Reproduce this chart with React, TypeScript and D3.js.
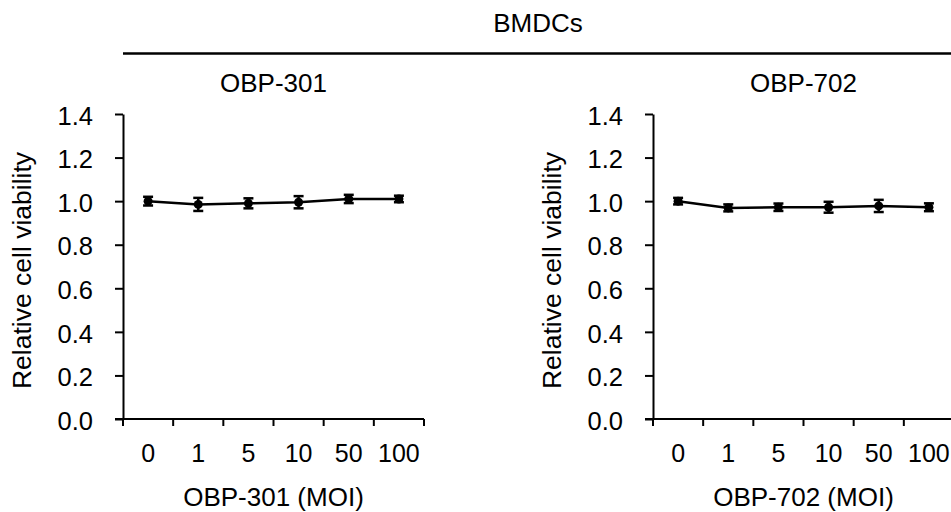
import React, { useEffect, useRef } from 'react';
import { select, scaleBand, scaleLinear, axisLeft, line, format } from 'd3';

const moi = ['0', '1', '5', '10', '50', '100'];
const obp301Mean = [1.0, 0.985, 0.99, 0.995, 1.01, 1.01];
const obp301Err = [0.02, 0.03, 0.023, 0.028, 0.019, 0.015];
const obp702Mean = [1.0, 0.969, 0.972, 0.972, 0.978, 0.972];
const obp702Err = [0.015, 0.016, 0.017, 0.025, 0.028, 0.018];
const yTicks = [0, 0.2, 0.4, 0.6, 0.8, 1.0, 1.2, 1.4];

const FONT = 'Liberation Sans, Arial, sans-serif';

function Panel({ left, title, xTitle, mean, err }) {
  const gRef = useRef(null);

  useEffect(() => {
    const width = 301;
    const top = 114;
    const bottom = 419;
    const g = select(gRef.current);
    g.selectAll('*').remove();

    const x = scaleBand().domain(moi).range([left, left + width]).padding(0);
    const y = scaleLinear().domain([0, 1.4]).range([bottom, top]);

    // y axis
    const yAxis = axisLeft(y).tickValues(yTicks).tickSize(8).tickSizeOuter(0).tickPadding(22).tickFormat(format('.1f'));
    const ya = g.append('g').attr('transform', `translate(${left},0)`).call(yAxis);
    ya.select('.domain').attr('stroke', '#000').attr('stroke-width', 2);
    ya.selectAll('.tick line').attr('stroke', '#000').attr('stroke-width', 2);
    ya.selectAll('.tick text').attr('font-size', 25.5).attr('font-family', FONT).attr('fill', '#000').attr('dy', '0.4em');

    // x axis
    g.append('line')
      .attr('x1', left - 8).attr('x2', left + width)
      .attr('y1', bottom).attr('y2', bottom)
      .attr('stroke', '#000').attr('stroke-width', 2);
    const edges = moi.map(d => x(d)).concat([left + width]);
    g.selectAll('.xtick').data(edges).join('line')
      .attr('class', 'xtick')
      .attr('x1', d => d).attr('x2', d => d)
      .attr('y1', bottom).attr('y2', bottom + 7)
      .attr('stroke', '#000').attr('stroke-width', 2);
    g.selectAll('.xlab').data(moi).join('text')
      .attr('class', 'xlab')
      .attr('x', d => x(d) + x.bandwidth() / 2)
      .attr('y', 462)
      .attr('text-anchor', 'middle')
      .attr('font-size', 25).attr('font-family', FONT)
      .text(d => d);

    const cx = i => x(moi[i]) + x.bandwidth() / 2;

    // line
    const path = line().x((d, i) => cx(i)).y(d => y(d));
    g.append('path').attr('d', path(mean))
      .attr('fill', 'none').attr('stroke', '#000').attr('stroke-width', 2.5);

    // error bars
    const eb = g.selectAll('.eb').data(mean).join('g').attr('class', 'eb');
    eb.append('line')
      .attr('x1', (d, i) => cx(i)).attr('x2', (d, i) => cx(i))
      .attr('y1', (d, i) => y(d + err[i])).attr('y2', (d, i) => y(d - err[i]))
      .attr('stroke', '#000').attr('stroke-width', 2.5);
    [1, -1].forEach(s => {
      eb.append('line')
        .attr('x1', (d, i) => cx(i) - 5).attr('x2', (d, i) => cx(i) + 5)
        .attr('y1', (d, i) => y(d + s * err[i])).attr('y2', (d, i) => y(d + s * err[i]))
        .attr('stroke', '#000').attr('stroke-width', 2.5);
    });
    eb.append('circle')
      .attr('cx', (d, i) => cx(i)).attr('cy', d => y(d)).attr('r', 4.5)
      .attr('fill', '#000');

    // y axis title
    g.append('text')
      .attr('transform', `translate(${left - 92},${(top + bottom) / 2 + 4}) rotate(-90)`)
      .attr('text-anchor', 'middle')
      .attr('font-size', 26.5).attr('font-family', FONT)
      .text('Relative cell viability');

    // panel title and x title
    g.append('text')
      .attr('x', left + width / 2).attr('y', 92)
      .attr('text-anchor', 'middle')
      .attr('font-size', 26).attr('font-family', FONT)
      .text(title);
    g.append('text')
      .attr('x', left + width / 2).attr('y', 506)
      .attr('text-anchor', 'middle')
      .attr('font-size', 26).attr('font-family', FONT)
      .text(xTitle);
  }, [left, title, xTitle, mean, err]);

  return <g ref={gRef}></g>;
}

export default function App() {
  return (
    <svg width={951} height={512} style={{ position: 'absolute', left: 0, top: 0, background: '#fff' }}>
      <text x={538} y={32} textAnchor="middle" fontSize={26} fontFamily={FONT}>BMDCs</text>
      <line x1={123} x2={951} y1={53.5} y2={53.5} stroke="#000" strokeWidth={2.5} />
      <Panel left={123} title="OBP-301" xTitle="OBP-301 (MOI)" mean={obp301Mean} err={obp301Err} />
      <Panel left={653} title="OBP-702" xTitle="OBP-702 (MOI)" mean={obp702Mean} err={obp702Err} />
    </svg>
  );
}
